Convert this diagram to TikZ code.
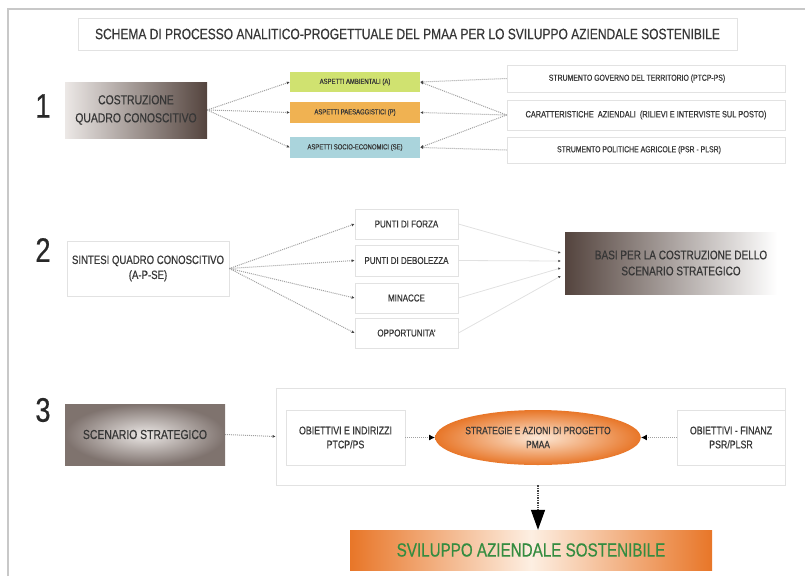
\documentclass[tikz,border=0pt]{standalone}
\usepackage{fontspec}
\setmainfont{Liberation Sans}[FakeStretch=0.8,FakeBold=0.5]
\usepackage{tikz}
\usetikzlibrary{positioning,shapes.geometric,arrows.meta}
\definecolor{framegray}{RGB}{200,200,200}
\definecolor{boxline}{RGB}{226,226,226}
\definecolor{txtgray}{RGB}{55,55,55}
\definecolor{numgray}{RGB}{40,40,40}
\definecolor{linkgray}{RGB}{160,160,160}
\definecolor{softgray}{RGB}{225,225,225}
\definecolor{tipgray}{RGB}{70,70,70}
\definecolor{greenbox}{RGB}{208,226,112}
\definecolor{orangebox}{RGB}{240,178,82}
\definecolor{bluebox}{RGB}{170,212,220}
\definecolor{brownbox}{RGB}{84,68,62}
\definecolor{brownlight}{RGB}{236,232,230}
\definecolor{deeporange}{RGB}{232,118,40}
\definecolor{paleorange}{RGB}{252,232,214}
\definecolor{svigreen}{RGB}{52,140,64}
\newcommand{\fsz}[2]{\fontsize{#1}{#2}\selectfont}

\begin{document}
\begin{tikzpicture}[x=1pt,y=-1pt,
		plainbox/.style={draw=boxline,fill=white,line width=0.8pt,text=txtgray,align=center,inner sep=1pt},
		aspect/.style={text=txtgray,minimum width=130pt,minimum height=21pt,inner sep=1pt,font={\fsz{7.4}{9}}},
		dotlink/.style={draw=linkgray,densely dotted,line width=1pt,-{Latex[length=3pt,width=3pt,color=tipgray]}},
		softlink/.style={draw=softgray,line width=0.8pt,-{Latex[length=2.5pt,width=2.5pt,color=tipgray]}},
		num/.style={text=numgray,font={\fsz{34}{36}},inner sep=0pt}]
		\useasboundingbox (0,0) rectangle (805,576);
		\draw[framegray,line width=1.5pt] (8,576) -- (8,9) -- (805,9);
		\node[plainbox,minimum width=659pt,minimum height=32pt,font={\fsz{15}{17}}] (title) at (407.5,34) {SCHEMA DI PROCESSO ANALITICO-PROGETTUALE DEL PMAA PER LO SVILUPPO AZIENDALE SOSTENIBILE};

		\node[num] (num1) at (43,106) {1};
		\node[left color=brownlight,right color=brownbox,text=txtgray,align=center,minimum width=142pt,minimum height=56pt,font={\fsz{13}{18}}] (costr) at (136,110) {COSTRUZIONE\\QUADRO CONOSCITIVO};
		\node[aspect,fill=greenbox,minimum height=20pt] (ambient) at (355,82) {ASPETTI AMBIENTALI (A)};
		\node[aspect,fill=orangebox] (paesag) at (355,112.5) {ASPETTI PAESAGGISTICI (P)};
		\node[aspect,fill=bluebox] (socio) at (355,147.5) {ASPETTI SOCIO-ECONOMICI (SE)};
		\node[plainbox,minimum width=278pt,minimum height=27pt,font={\fsz{8.6}{10}}] (strgov) at (646,78.5) {\hspace*{-18pt}STRUMENTO GOVERNO DEL TERRITORIO (PTCP-PS)};
		\node[plainbox,minimum width=278pt,minimum height=30pt,font={\fsz{9.2}{11}}] (caratt) at (646,115) {CARATTERISTICHE \ AZIENDALI \ (RILIEVI E INTERVISTE SUL POSTO)};
		\node[plainbox,minimum width=278pt,minimum height=26pt,font={\fsz{8.6}{10}}] (strpol) at (646,150) {\hspace*{-14pt}STRUMENTO POLITICHE AGRICOLE (PSR - PLSR)};
		\foreach \t in {ambient,paesag,socio}
			\draw[dotlink] (costr.east) -- (\t.west);
		\draw[dotlink] (strgov.west) -- (ambient.east);
		\draw[dotlink] (caratt.west) -- (ambient.east);
		\draw[dotlink] (caratt.west) -- (paesag.east);
		\draw[dotlink] (caratt.west) -- (socio.east);
		\draw[dotlink] (strpol.west) -- (socio.east);

		\node[num] (num2) at (43,250) {2};
		\node[plainbox,minimum width=162pt,minimum height=55pt,font={\fsz{12}{15}}] (sintesi) at (148,268.5) {SINTESI QUADRO CONOSCITIVO\\(A-P-SE)};
		\node[plainbox,minimum width=103pt,minimum height=30pt,font={\fsz{10}{12}}] (forza) at (406.5,224) {PUNTI DI FORZA};
		\node[plainbox,minimum width=103pt,minimum height=31pt,font={\fsz{10}{12}}] (debol) at (406.5,260.5) {PUNTI DI DEBOLEZZA};
		\node[plainbox,minimum width=103pt,minimum height=30pt,font={\fsz{10}{12}}] (minacce) at (406.5,298) {MINACCE};
		\node[plainbox,minimum width=103pt,minimum height=30pt,font={\fsz{10}{12}}] (opport) at (406.5,333) {OPPORTUNITA'};
		\node[left color=brownbox,right color=white,text=txtgray,align=center,minimum width=212pt,minimum height=62pt,font={\fsz{12.5}{16}}] (basi) at (671,263) {\hspace*{20pt}BASI PER LA COSTRUZIONE DELLO\\\hspace*{20pt}SCENARIO STRATEGICO};
		\foreach \t in {forza,debol,minacce,opport}
			\draw[dotlink] (sintesi.east) -- (\t.west);
		\draw[softlink] (forza.east) -- ([xshift=-4pt,yshift=10pt]basi.west);
		\draw[softlink] (debol.east) -- ([xshift=-4pt,yshift=2pt]basi.west);
		\draw[softlink] (minacce.east) -- ([xshift=-4pt,yshift=-5pt]basi.west);
		\draw[softlink] (opport.east) -- ([xshift=-4pt,yshift=-13pt]basi.west);

		\node[num] (num3) at (43,410) {3};
		\node[inner color=brownlight,outer color=brownbox!75,text=txtgray,minimum width=160pt,minimum height=61pt,font={\fsz{13}{15}}] (scenario) at (145,434.5) {SCENARIO STRATEGICO};
		\node[plainbox,minimum width=509pt,minimum height=97pt] (azioni) at (530.5,436.5) {};
		\node[plainbox,minimum width=119pt,minimum height=55pt,font={\fsz{11}{14}}] (obind) at (345.5,437.5) {OBIETTIVI E INDIRIZZI\\PTCP/PS};
		\node[ellipse,inner color=paleorange,outer color=deeporange,text=txtgray,align=center,minimum width=204pt,minimum height=55pt,inner sep=0pt,font={\fsz{10.5}{14}}] (strategie) at (538,437.5) {STRATEGIE E AZIONI DI PROGETTO\\PMAA};
		\node[plainbox,minimum width=108pt,minimum height=55pt,font={\fsz{11}{14}}] (obfin) at (731,437.5) {OBIETTIVI - FINANZ\\PSR/PLSR};
		\node[left color=deeporange,right color=deeporange,middle color=paleorange!70!white,text=svigreen,minimum width=362pt,minimum height=40pt,font={\fsz{19}{22}}] (sviluppo) at (531,550) {SVILUPPO AZIENDALE SOSTENIBILE};
		\draw[dotlink] (scenario.east) -- (azioni.west);
		\draw[dotlink,-{Latex[length=6pt,width=6pt,color=black]}] (obind.east) -- (strategie.west);
		\draw[dotlink,-{Latex[length=6pt,width=6pt,color=black]}] (obfin.west) -- (strategie.east);
		\draw[densely dotted,line width=1.4pt,draw=tipgray,-{Triangle[length=20pt,width=14pt,color=black]}] (azioni.south -| strategie.south) -- (sviluppo.north -| strategie.south);
	\end{tikzpicture}
\end{document}
